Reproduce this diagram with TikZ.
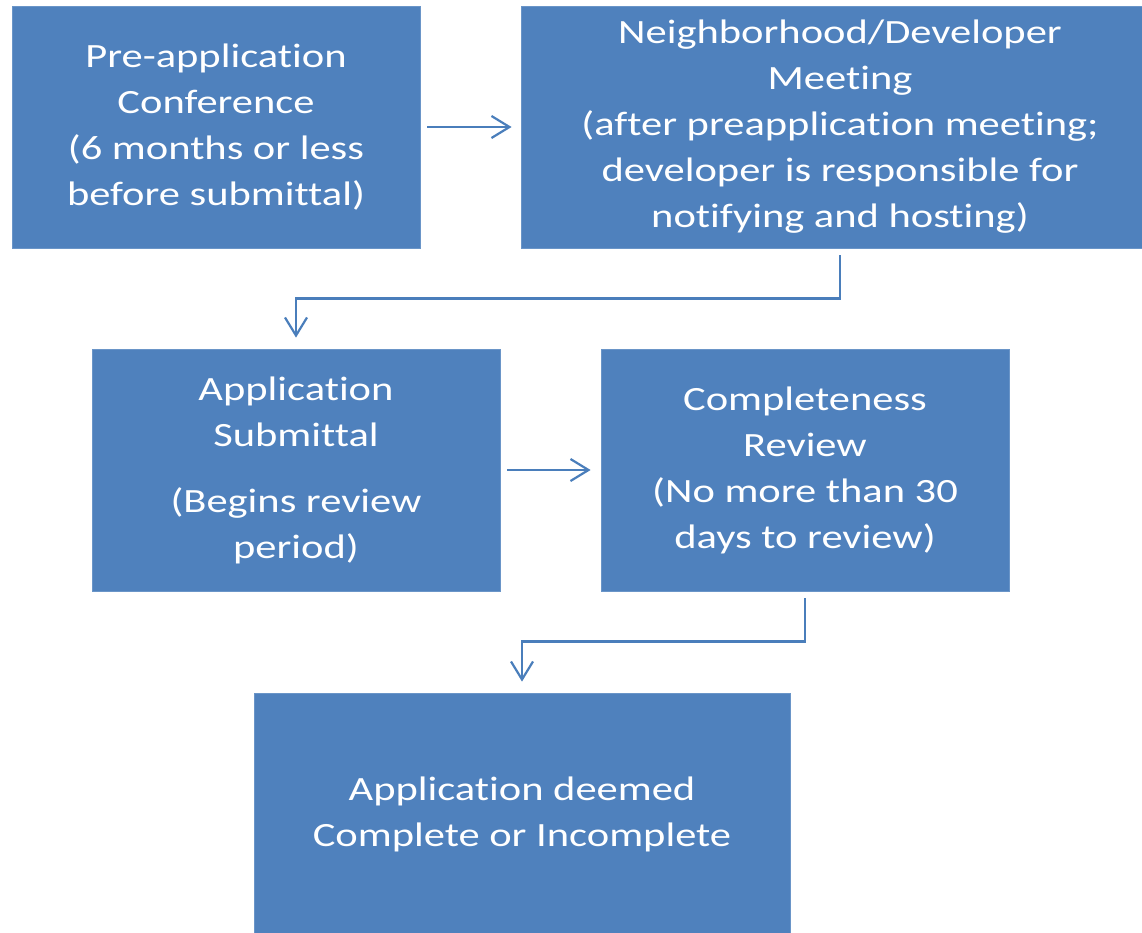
\documentclass[tikz,border=0pt]{standalone}
\usepackage{fontspec}
\setmainfont{Carlito}[FakeStretch=1.25,Ligatures=NoCommon]
\usetikzlibrary{arrows.meta}
\definecolor{boxblue}{HTML}{4F81BD}
\definecolor{boxrim}{HTML}{6A95C8}
\definecolor{lineblue}{HTML}{4A7EBB}
\tikzstyle{stepbox}=[rectangle,fill=boxblue,draw=boxrim,line width=0.8pt,minimum height=242pt,inner sep=0pt,text=white,align=center,font=\fontsize{34}{46}\selectfont]
\tikzstyle{flow} = [draw,line width=2.2pt,lineblue,-{Straight Barb[length=18pt,width=22pt]}]

\begin{document}
\begin{tikzpicture}[x=1pt,y=-1pt]

    \useasboundingbox (0,0) rectangle (1142,933);

     \foreach \x/\y/\w/\name/\txt in {216/127/408/pre/{Pre-application\\Conference\\(6 months or less\\before submittal)},
        840/127/638/meet/{Neighborhood/Developer\\Meeting\\(after preapplication meeting;\\developer is responsible for\\notifying and hosting)},
        296/470/408/app/{Application\\Submittal\\[20pt](Begins review\\period)},
        805/470/408/rev/{Completeness\\Review\\(No more than 30\\days to review)},
        522/814/536/deem/{Application deemed\\Complete or Incomplete}}
        \node[stepbox, minimum width=\w pt] (\name) at (\x,\y) {\txt};

    % straight steps
    \draw[flow, shorten <=7pt, shorten >=9pt] (pre.east) -- (meet.west);
    \draw[flow, shorten <=7pt, shorten >=10pt] (app.east) -- (rev.west);

    % elbows down to next row
    \draw[flow, shorten >=11pt] ([yshift=-7pt]meet.south) -- ++(0,43) -| (app.north);
    \draw[flow, shorten >=11pt] ([yshift=-7pt]rev.south) -- ++(0,43) -| (deem.north);

\end{tikzpicture}
\end{document}
